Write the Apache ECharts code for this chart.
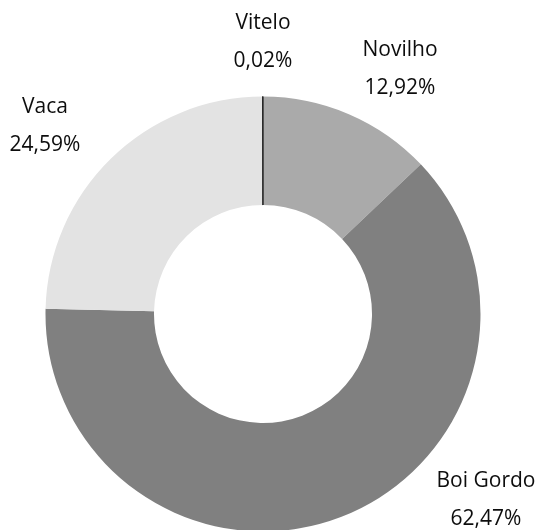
<!DOCTYPE html>
<html>
<head>
<meta charset="utf-8">
<script src="https://cdn.jsdelivr.net/npm/echarts@6/dist/echarts.min.js"></script>
<style>
  html, body { margin: 0; padding: 0; background: #fff; }
  #main { width: 540px; height: 530px; }
</style>
</head>
<body>
<div id="main"></div>
<script>
// categories and shares (%) in drawing order, clockwise from 12 o'clock
var categories = ["Novilho", "Boi Gordo", "Vaca", "Vitelo"];
var shares = [12.92, 62.47, 24.59, 0.02];
var colors = ["#aaaaaa", "#808080", "#e3e3e3", "#000000"];

// where each label sits (label centre)
var labelSpots = [[400, 69], [486, 500], [45, 126], [263, 42]];

var chart = echarts.init(document.getElementById("main"));

var pieData = categories.map(function (name, i) {
    var item = {
        name: name,
        value: shares[i],
        itemStyle: { color: colors[i] }
    };
    if (name === "Vitelo") {
        item.itemStyle.borderColor = "#000";
        item.itemStyle.borderWidth = 0.8;
    }
    return item;
});

var option = {
    animation: false,
    series: [
        {
            type: "pie",
            center: [263, 314],
            radius: [109, 217.5],
            startAngle: 90,
            clockwise: true,
            avoidLabelOverlap: false,
            data: pieData,
            label: {
                show: true,
                position: "outside",
                color: "#0d0d0d",
                fontFamily: "Open Sans",
                fontSize: 21,
                lineHeight: 38,
                align: "center",
                formatter: function (p) {
                    return p.name + "\n" + p.value.toFixed(2).replace(".", ",") + "%";
                }
            },
            labelLine: { show: false },
            labelLayout: function (params) {
                var spot = labelSpots[params.dataIndex];
                return {
                    x: spot[0],
                    y: spot[1],
                    align: "center",
                    verticalAlign: "middle"
                };
            },
            emphasis: { disabled: true }
        }
    ]
};

chart.setOption(option);
</script>
</body>
</html>
